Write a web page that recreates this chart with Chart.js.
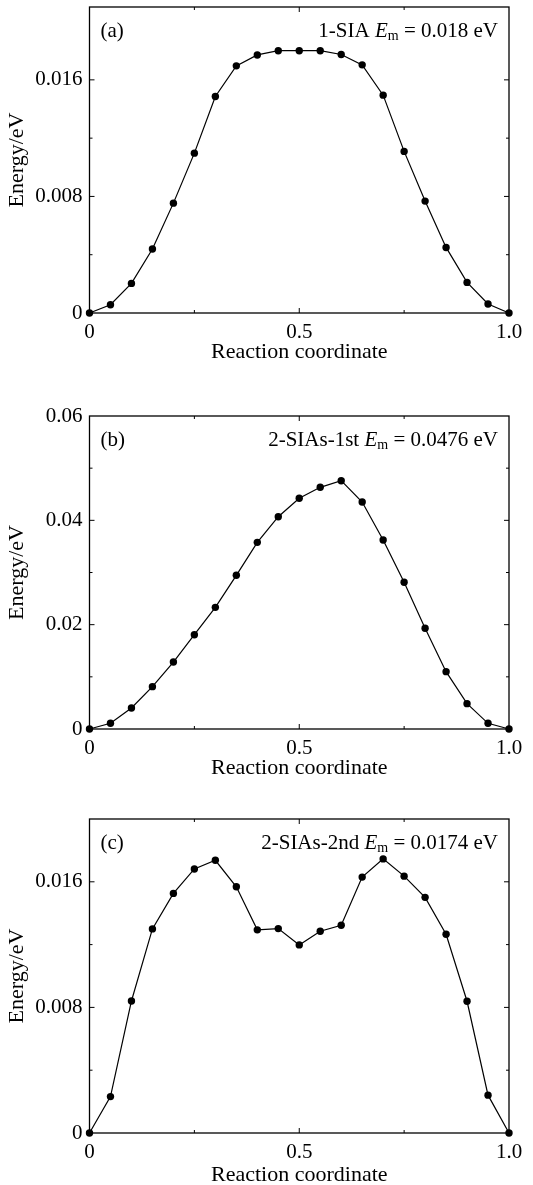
<!DOCTYPE html>
<html>
<head>
<meta charset="utf-8">
<script src="https://cdn.jsdelivr.net/npm/chart.js@4"></script>
<style>
  html, body { margin: 0; padding: 0; background: #fff; width: 533px; height: 1185px; overflow: hidden; }
  .panel { position: absolute; left: 0; width: 533px; }
</style>
</head>
<body>
<div class="panel" id="pa" style="top:0px;height:365px;"><canvas id="ca"></canvas></div>
<div class="panel" id="pb" style="top:400px;height:381px;"><canvas id="cb"></canvas></div>
<div class="panel" id="pc" style="top:800px;height:388px;"><canvas id="cc"></canvas></div>
<script>
// ---- data ----
const reactionCoord = [0, 0.05, 0.1, 0.15, 0.2, 0.25, 0.3, 0.35, 0.4, 0.45, 0.5, 0.55, 0.6, 0.65, 0.7, 0.75, 0.8, 0.85, 0.9, 0.95, 1.0];
const energyA = [0, 0.00057, 0.00203, 0.00439, 0.00754, 0.01097, 0.01486, 0.01696, 0.01771, 0.01800, 0.01800, 0.01800, 0.01774, 0.01703, 0.01495, 0.01109, 0.00768, 0.00450, 0.00210, 0.00062, 0];
const energyB = [0, 0.00109, 0.00403, 0.00812, 0.01284, 0.01808, 0.02332, 0.02946, 0.03578, 0.04070, 0.04422, 0.04633, 0.04760, 0.04351, 0.03623, 0.02812, 0.01930, 0.01099, 0.00486, 0.00109, 0];
const energyC = [0, 0.00232, 0.00841, 0.01300, 0.01526, 0.01682, 0.01737, 0.01568, 0.01294, 0.01302, 0.01198, 0.01285, 0.01323, 0.01630, 0.01746, 0.01636, 0.01501, 0.01266, 0.00839, 0.00241, 0];
const panelLabels = ['(a)', '(b)', '(c)'];
const seriesNames = ['1-SIA', '2-SIAs-1st', '2-SIAs-2nd'];
const emValues = ['0.018', '0.0476', '0.0174'];
const yMaxes = [0.021, 0.06, 0.020];
const yMajorTicks = [[0, 0.008, 0.016], [0, 0.02, 0.04, 0.06], [0, 0.008, 0.016]];
const yStepSizes = [0.004, 0.01, 0.004];
const xMajorTicks = [0, 0.5, 1.0];
const xStepSize = 0.25;
const xTitle = 'Reaction coordinate';
const yTitle = 'Energy/eV';

const FONT = "'Liberation Serif', 'Times New Roman', serif";

function fmtY(v) {
  if (Math.abs(v) < 1e-12) return '0';
  let s = v.toFixed(3);
  if (s.endsWith('0')) s = v.toFixed(2);
  return s;
}
function isMajor(list, v) { return list.some(m => Math.abs(m - v) < 1e-9); }

const framePlugin = {
  id: 'frame',
  afterDraw(chart) {
    const o = chart.options.plugins.frame;
    const { ctx, chartArea: a } = chart;
    const xs = chart.scales.x, ys = chart.scales.y;
    ctx.save();
    ctx.strokeStyle = '#000';
    ctx.lineWidth = 1.3;
    ctx.strokeRect(a.left, a.top, a.right - a.left, a.bottom - a.top);
    ctx.lineWidth = 1;
    // y ticks (inward, both sides)
    ys.ticks.forEach(t => {
      const v = t.value;
      if (Math.abs(v - ys.min) < 1e-9 || Math.abs(v - ys.max) < 1e-9) return;
      const rem = Math.abs(v / o.yStep - Math.round(v / o.yStep));
      if (rem > 1e-6) return;
      const p = ys.getPixelForValue(v);
      const L = isMajor(o.yMajor, v) ? 5 : 3;
      ctx.beginPath();
      ctx.moveTo(a.left, p); ctx.lineTo(a.left + L, p);
      ctx.moveTo(a.right, p); ctx.lineTo(a.right - L, p);
      ctx.stroke();
    });
    xs.ticks.forEach(t => {
      const v = t.value;
      if (Math.abs(v - xs.min) < 1e-9 || Math.abs(v - xs.max) < 1e-9) return;
      const p = xs.getPixelForValue(v);
      const L = isMajor(xMajorTicks, v) ? 5 : 3;
      ctx.beginPath();
      ctx.moveTo(p, a.bottom); ctx.lineTo(p, a.bottom - L);
      ctx.moveTo(p, a.top); ctx.lineTo(p, a.top + L);
      ctx.stroke();
    });
    // annotations
    const cy = a.top + 24;
    ctx.fillStyle = '#000';
    ctx.textBaseline = 'middle';
    ctx.font = '21px ' + FONT;
    ctx.textAlign = 'left';
    ctx.fillText(o.label, a.left + 11, cy);
    // right annotation: name  E_m = value eV
    const fN = '21px ' + FONT, fI = 'italic 21px ' + FONT, fS = '14px ' + FONT;
    const parts = [
      { t: o.name + ' ', f: fN, dy: 0 },
      { t: 'E', f: fI, dy: 0 },
      { t: 'm', f: fS, dy: 5 },
      { t: ' = ' + o.em + ' eV', f: fN, dy: 0 }
    ];
    let total = 0;
    parts.forEach(p => { ctx.font = p.f; p.w = ctx.measureText(p.t).width; total += p.w; });
    let x = a.right - 11 - total;
    parts.forEach(p => { ctx.font = p.f; ctx.fillText(p.t, x, cy + p.dy); x += p.w; });
    ctx.restore();
  }
};

function makeChart(id, idx, energy, padTop, chartBottomOffset, canvasH) {
  const pts = reactionCoord.map((x, i) => ({ x: x, y: energy[i] }));
  const el = document.getElementById(id);
  el.width = 533; el.height = canvasH;
  return new Chart(el, {
    type: 'line',
    data: { datasets: [{
      data: pts,
      borderColor: '#000', backgroundColor: '#000', borderWidth: 1.2,
      pointRadius: 3.7, pointHoverRadius: 3.7, pointBackgroundColor: '#000', pointBorderWidth: 0,
      tension: 0, fill: false, clip: false
    }]},
    options: {
      responsive: false, animation: false, devicePixelRatio: 1,
      layout: { padding: { top: padTop, right: 24, left: 0, bottom: 0 } },
      plugins: {
        legend: { display: false }, tooltip: { enabled: false },
        frame: { label: panelLabels[idx], name: seriesNames[idx], em: emValues[idx], yMajor: yMajorTicks[idx], yStep: yStepSizes[idx] }
      },
      scales: {
        x: {
          type: 'linear', min: 0, max: 1,
          grid: { display: false, drawTicks: false }, border: { display: false },
          ticks: { stepSize: xStepSize, padding: 7, color: '#000', font: { family: FONT, size: 21 },
                   maxRotation: 0, autoSkip: false,
                   callback: v => isMajor(xMajorTicks, v) ? (v === 1 ? '1.0' : String(v)) : '' },
          title: { display: true, text: xTitle, color: '#000', font: { family: FONT, size: 22 }, padding: 0 },
          afterFit(s) { s.height = canvasH - chartBottomOffset; s.paddingLeft = 0; s.paddingRight = 0; }
        },
        y: {
          type: 'linear', min: 0, max: yMaxes[idx],
          grid: { display: false, drawTicks: false }, border: { display: false },
          ticks: { stepSize: yStepSizes[idx], padding: 7, color: '#000', font: { family: FONT, size: 21 },
                   autoSkip: false,
                   callback: v => isMajor(yMajorTicks[idx], v) ? fmtY(v) : '' },
          title: { display: true, text: yTitle, color: '#000', font: { family: FONT, size: 22 }, padding: { top: 4, bottom: 0 } },
          afterFit(s) { s.width = 89.5; s.paddingTop = 0; s.paddingBottom = 0; }
        }
      }
    },
    plugins: [framePlugin]
  });
}

// panel a: canvas top 0, chart top 7, bottom 313
makeChart('ca', 0, energyA, 7, 313, 365);
// panel b: canvas top 400, chart top 416, bottom 729
makeChart('cb', 1, energyB, 16, 329, 381);
// panel c: canvas top 800, chart top 819, bottom 1133
makeChart('cc', 2, energyC, 19, 333, 388);
</script>
</body>
</html>
